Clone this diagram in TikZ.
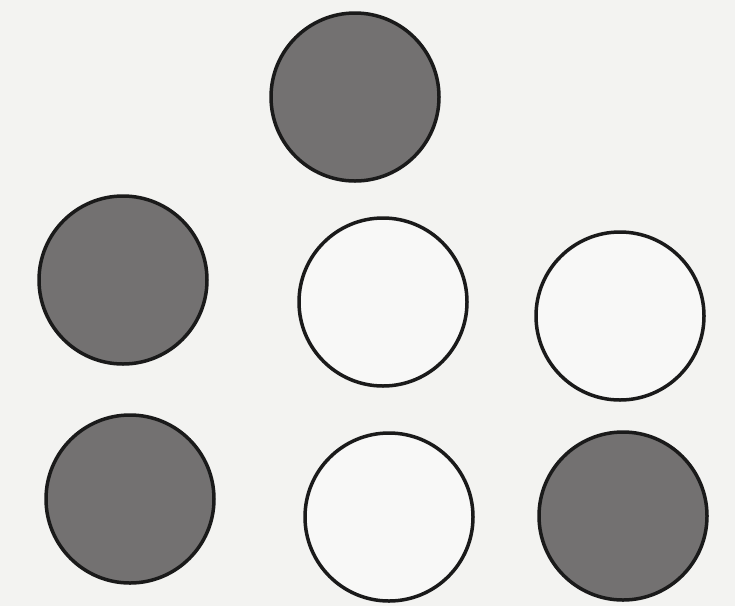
\documentclass[tikz,border=0pt]{standalone}
\definecolor{bg}{HTML}{F3F3F1}
\definecolor{inner}{HTML}{F8F8F7}
\definecolor{disk}{HTML}{737171}
\definecolor{rim}{HTML}{1A1A1A}
\begin{document}
\begin{tikzpicture}[x=1pt,y=-1pt,
  ball/.style={circle,draw=rim,line width=3.5pt,minimum size=168pt,inner sep=0pt},
  full/.style={ball,fill=disk},
  empty/.style={ball,fill=inner}]
\fill[bg] (0,0) rectangle (735,606);
\useasboundingbox (0,0) rectangle (735,606);
\node[full]  (top) at (355,97) {};
\node[full]  (ml)  at (123,280) {};
\node[empty] (mc)  at (383,302) {};
\node[empty] (mr)  at (620,316) {};
\node[full]  (bl)  at (130,499) {};
\node[empty] (bc)  at (389,517) {};
\node[full]  (br)  at (623,516) {};
\end{tikzpicture}
\end{document}
